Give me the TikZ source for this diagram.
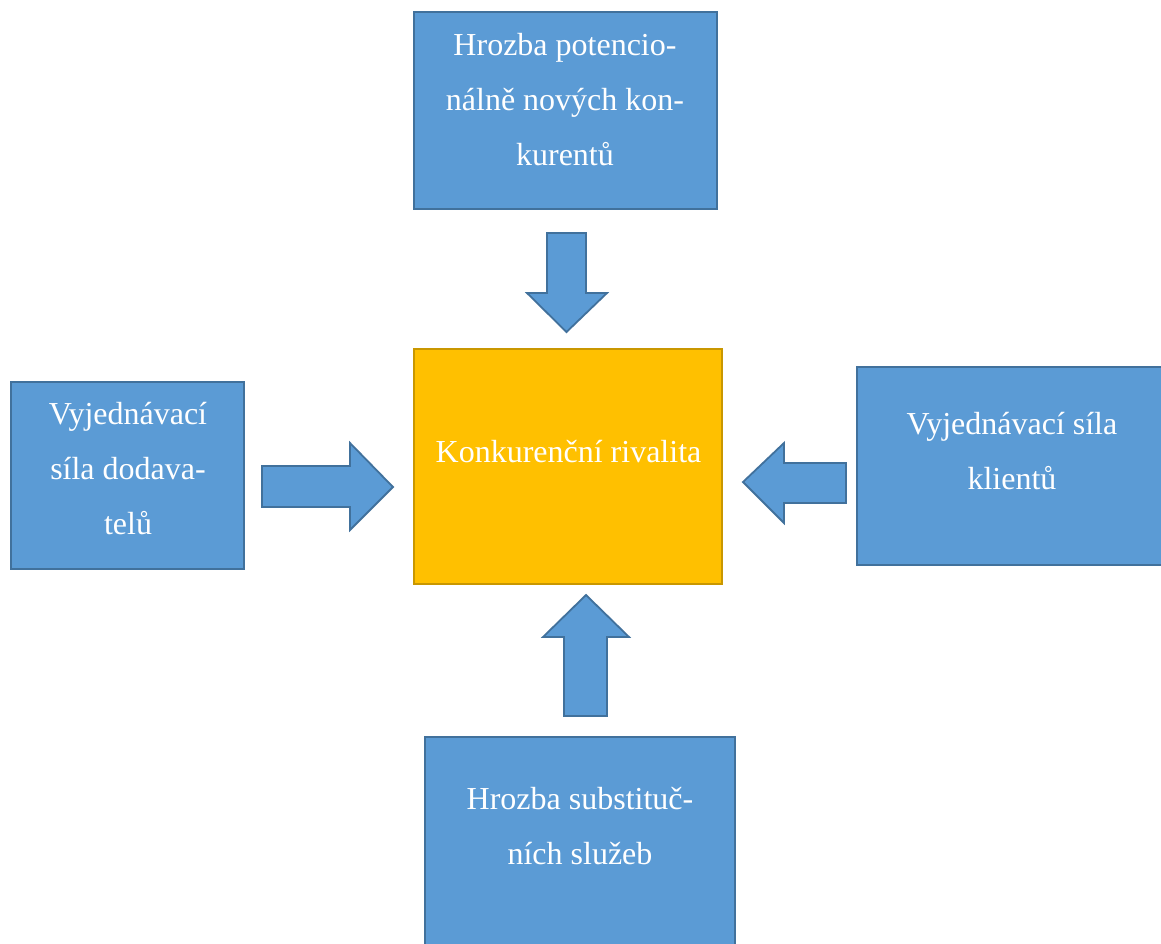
\documentclass[tikz,border=0pt]{standalone}
\usepackage{fontspec}
\setmainfont{Liberation Serif}
\definecolor{boxblue}{HTML}{5B9BD5}
\definecolor{boxblueline}{HTML}{41719C}
\definecolor{boxgold}{HTML}{FFC000}
\definecolor{boxgoldline}{HTML}{C99700}
\tikzset{
  bluebox/.style={draw=boxblueline, fill=boxblue, line width=2pt},
  goldbox/.style={draw=boxgoldline, fill=boxgold, line width=2pt},
  blockarrow/.style={draw=boxblueline, fill=boxblue, line width=1.8pt, line join=miter},
  label/.style={text=white, align=center, inner sep=0pt, font=\fontsize{32}{55}\selectfont},
}
\begin{document}
\begin{tikzpicture}[x=1pt,y=-1pt]
\useasboundingbox (0,0) rectangle (1161,943);
\clip (0,0) rectangle (1161,943);
\fill[white] (0,0) rectangle (1161,943);
% boxes
\draw[bluebox] (414,12) rectangle (717,209);
\node (top) at (565.5,110.5) {};
\draw[bluebox] (11,382) rectangle (244,569);
\node (left) at (127.5,475.5) {};
\draw[bluebox] (857,367) rectangle (1168,565);
\node (right) at (1012,466) {};
\draw[bluebox] (425,737) rectangle (735,960);
\node (bottom) at (580,850) {};
\draw[goldbox] (414,349) rectangle (722,584);
\node (center) at (568,466.5) {};
% texts
\node[label] (ttop) at (565,99.5) {\strut Hrozba potencio-\\\strut nálně nových kon-\\\strut kurentů};
\node[label] (tleft) at (128,468.5) {\strut Vyjednávací\\\strut síla dodava-\\\strut telů};
\node[label] (tright) at (1012,450.5) {\strut Vyjednávací síla\\\strut klientů};
\node[label] (tbottom) at (580,826) {\strut Hrozba substituč-\\\strut ních služeb};
\node[label] (tcenter) at (568.5,451.5) {\strut Konkurenční rivalita};
% block arrows
\draw[blockarrow] (547,233) -- (586,233) -- (586,293) -- (607,293) -- (566.5,332) -- (527,293) -- (547,293) -- cycle;
\draw[blockarrow] (262,466) -- (350,466) -- (350,443) -- (393,487) -- (350,530) -- (350,507) -- (262,507) -- cycle;
\draw[blockarrow] (846,463) -- (784,463) -- (784,443) -- (743,482) -- (784,523) -- (784,503) -- (846,503) -- cycle;
\draw[blockarrow] (564,716) -- (564,637) -- (543,637) -- (586,595) -- (629,637) -- (607,637) -- (607,716) -- cycle;
\end{tikzpicture}
\end{document}
